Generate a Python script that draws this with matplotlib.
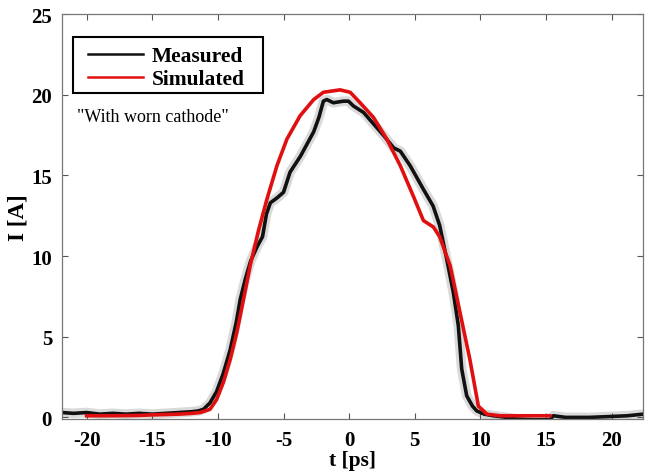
import matplotlib.pyplot as plt
from matplotlib.patches import Rectangle

# Measured current (black) and simulated current (red)
meas_t = [-21.9, -21.0, -20.0, -19.0, -18.0, -17.0, -16.0, -15.0, -14.0, -13.0, -12.0, -11.5,
          -11.1, -10.6, -10.1, -9.6, -9.06, -8.6, -8.3, -7.9, -7.5, -7.0, -6.6, -6.3, -6.0,
          -5.5, -5.0, -4.5, -3.7, -2.7, -2.3, -1.96, -1.7, -1.2, -0.43, -0.05, 0.33, 1.1,
          1.85, 2.6, 3.4, 3.9, 4.65, 5.65, 6.4, 6.9, 7.44, 7.94, 8.32, 8.58, 8.96, 9.4,
          9.73, 10.3, 11.0, 12.0, 12.77, 14.0, 15.3, 15.56, 16.5, 17.5, 18.3, 19.8, 21.2, 22.4]
meas_i = [0.3, 0.25, 0.3, 0.2, 0.25, 0.2, 0.25, 0.2, 0.25, 0.3, 0.35, 0.4,
          0.5, 0.9, 1.6, 2.7, 4.2, 5.9, 7.3, 8.6, 9.7, 10.6, 11.2, 12.6, 13.3,
          13.6, 13.95, 15.2, 16.2, 17.7, 18.6, 19.6, 19.7, 19.5, 19.6, 19.6, 19.3, 18.9,
          18.2, 17.5, 16.7, 16.5, 15.6, 14.15, 13.1, 11.9, 9.8, 7.75, 5.7, 3.0, 1.34, 0.7,
          0.4, 0.2, 0.1, 0.0, -0.1, -0.15, -0.15, 0.1, 0.0, 0.0, 0.0, 0.05, 0.1, 0.2]

sim_t = [-20.0, -18.0, -16.0, -15.2, -13.0, -12.0, -11.35, -10.6, -10.1, -9.57, -9.06, -8.55,
         -8.05, -7.54, -6.9, -6.27, -5.5, -4.74, -3.73, -2.7, -1.96, -0.69, 0.08, 0.84,
         1.85, 2.87, 3.9, 4.9, 5.66, 6.42, 6.9, 7.7, 8.45, 9.2, 9.85, 10.5, 11.5, 13.0, 15.3]
sim_i = [0.1, 0.1, 0.12, 0.15, 0.2, 0.25, 0.3, 0.5, 1.1, 2.2, 3.6, 5.3,
         7.3, 9.4, 11.6, 13.5, 15.6, 17.25, 18.7, 19.7, 20.15, 20.3, 20.15, 19.5,
         18.6, 17.25, 15.6, 13.7, 12.2, 11.8, 11.2, 9.4, 6.5, 3.6, 0.7, 0.2, 0.1, 0.1, 0.1]

xticks = [-20, -15, -10, -5, 0, 5, 10, 15, 20]
yticks = [0, 5, 10, 15, 20, 25]

plt.rcParams['font.family'] = ['Liberation Serif', 'DejaVu Serif']
plt.rcParams['axes.unicode_minus'] = False

fig = plt.figure(figsize=(6.45, 4.77), dpi=100)
ax = fig.add_axes([0.0957, 0.1195, 0.9013, 0.849])

# grey spread behind the measured trace
ax.plot(meas_t, meas_i, color='#dadada', lw=7, solid_capstyle='round', zorder=1)
ax.plot(meas_t, meas_i, color='#111111', lw=2.6, label='Measured', zorder=2)
ax.plot(sim_t, sim_i, color='#e01010', lw=2.6, label='Simulated', zorder=3)

ax.set_xlim(-21.9, 22.4)
ax.set_ylim(-0.1, 25)
ax.set_xticks(xticks)
ax.set_yticks(yticks)
ax.tick_params(direction='in', length=4, width=0.8, color='#555555',
               top=True, right=True, labelsize=15)
ax.tick_params(axis='x', pad=8)
ax.tick_params(axis='y', pad=7)
for lab in ax.get_xticklabels() + ax.get_yticklabels():
    lab.set_fontweight('bold')
for sp in ax.spines.values():
    sp.set_color('#777777')
    sp.set_linewidth(0.9)

ax.set_xlabel('t [ps]', fontsize=15.5, fontweight='bold', labelpad=0)
ax.set_ylabel('I [A]', fontsize=16.5, fontweight='bold', labelpad=2)

# legend entries without frame, box drawn separately to get the wide padding
leg = ax.legend(loc='upper left', bbox_to_anchor=(0.0452, 0.921), frameon=False,
                handlelength=2.55, handletextpad=0.4, borderpad=0, borderaxespad=0,
                labelspacing=0.15, prop={'weight': 'bold', 'size': 15.5})
for line in leg.get_lines():
    line.set_linewidth(1.8)
ax.add_patch(Rectangle((0.0194, 0.805), 0.327, 0.138, transform=ax.transAxes,
                       facecolor='white', edgecolor='black', lw=1.5, zorder=4))
leg.set_zorder(5)

ax.text(0.026, 0.748, '"With worn cathode"', transform=ax.transAxes,
        fontsize=13, va='center', ha='left')

fig.savefig('out.png', dpi=100)
